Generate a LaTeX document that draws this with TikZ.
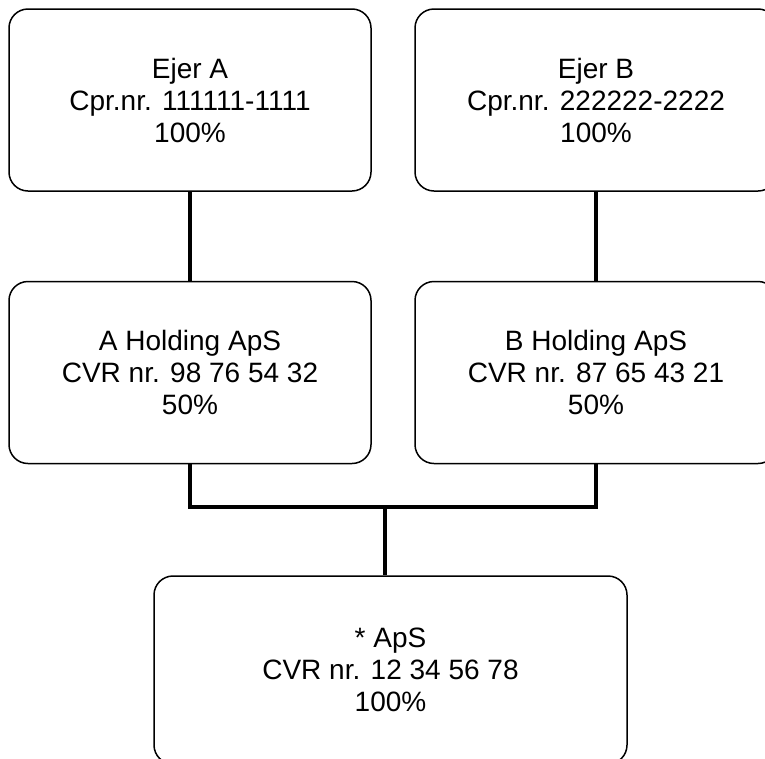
\documentclass[tikz,border=0pt]{standalone}
\usepackage{fontspec}
\setmainfont{Liberation Sans}
\usepackage{tikz}

\begin{document}
\begin{tikzpicture}[x=1pt, y=-1pt,
    owner/.style = {draw, line width=1.5pt, rounded corners=19pt, inner sep=0pt,
                    minimum width=362pt, minimum height=182pt, align=center,
                    font=\fontsize{28}{32}\selectfont},
    link/.style = {line width=3.5pt}]
                % Page
                \useasboundingbox (0,0) rectangle (765,758);

                % Owners
                \node[owner] (EA) at (190,100) {Ejer A\\Cpr.nr. 111111-1111\\100\%};
                \node[owner] (EB) at (596,100) {Ejer B\\Cpr.nr. 222222-2222\\100\%};

                % Holding companies
                \node[owner] (HA) at (190,372.5) {A Holding ApS\\CVR nr. 98 76 54 32\\50\%};
                \node[owner] (HB) at (596,372.5) {B Holding ApS\\CVR nr. 87 65 43 21\\50\%};

                % Company
                \node[owner, minimum width=473pt, minimum height=188pt] (ApS) at (390.5,670) {* ApS\\CVR nr. 12 34 56 78\\100\%};

                % Ownership lines
                \draw[link] (EA) -- (HA);
                \draw[link] (EB) -- (HB);
                \coordinate (join) at (385,507);
                \draw[link] (HA.south) |- (join) -| (HB.south);
                \draw[link] (join) -- (join |- ApS.north);

            \end{tikzpicture}
\end{document}
